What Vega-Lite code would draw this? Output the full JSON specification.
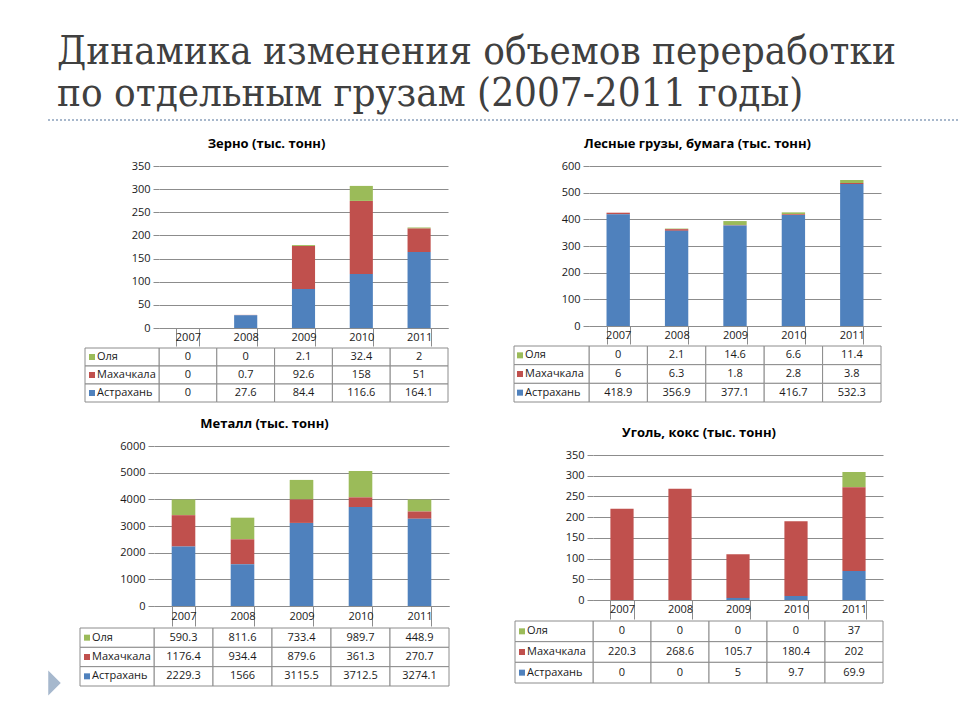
{
  "$schema": "https://vega.github.io/schema/vega-lite/v6.json",
  "padding": {"left": 47, "top": 32, "right": 0, "bottom": 0},
  "background": "white",
  "title": {
    "text": ["Динамика изменения объемов переработки", "по отдельным грузам (2007-2011 годы)"],
    "anchor": "start", "frame": "bounds", "font": "DejaVu Serif Condensed, DejaVu Serif",
    "fontSize": 40, "fontWeight": "normal", "color": "#404040", "lineHeight": 42, "dx": 10, "offset": 5
  },
  "datasets": {
    "d": [
      {"chart": "Зерно", "year": "2007", "series": "Оля", "value": 0},
      {"chart": "Зерно", "year": "2007", "series": "Махачкала", "value": 0},
      {"chart": "Зерно", "year": "2007", "series": "Астрахань", "value": 0},
      {"chart": "Зерно", "year": "2008", "series": "Оля", "value": 0},
      {"chart": "Зерно", "year": "2008", "series": "Махачкала", "value": 0.7},
      {"chart": "Зерно", "year": "2008", "series": "Астрахань", "value": 27.6},
      {"chart": "Зерно", "year": "2009", "series": "Оля", "value": 2.1},
      {"chart": "Зерно", "year": "2009", "series": "Махачкала", "value": 92.6},
      {"chart": "Зерно", "year": "2009", "series": "Астрахань", "value": 84.4},
      {"chart": "Зерно", "year": "2010", "series": "Оля", "value": 32.4},
      {"chart": "Зерно", "year": "2010", "series": "Махачкала", "value": 158},
      {"chart": "Зерно", "year": "2010", "series": "Астрахань", "value": 116.6},
      {"chart": "Зерно", "year": "2011", "series": "Оля", "value": 2},
      {"chart": "Зерно", "year": "2011", "series": "Махачкала", "value": 51},
      {"chart": "Зерно", "year": "2011", "series": "Астрахань", "value": 164.1},
      {"chart": "Лес", "year": "2007", "series": "Оля", "value": 0},
      {"chart": "Лес", "year": "2007", "series": "Махачкала", "value": 6},
      {"chart": "Лес", "year": "2007", "series": "Астрахань", "value": 418.9},
      {"chart": "Лес", "year": "2008", "series": "Оля", "value": 2.1},
      {"chart": "Лес", "year": "2008", "series": "Махачкала", "value": 6.3},
      {"chart": "Лес", "year": "2008", "series": "Астрахань", "value": 356.9},
      {"chart": "Лес", "year": "2009", "series": "Оля", "value": 14.6},
      {"chart": "Лес", "year": "2009", "series": "Махачкала", "value": 1.8},
      {"chart": "Лес", "year": "2009", "series": "Астрахань", "value": 377.1},
      {"chart": "Лес", "year": "2010", "series": "Оля", "value": 6.6},
      {"chart": "Лес", "year": "2010", "series": "Махачкала", "value": 2.8},
      {"chart": "Лес", "year": "2010", "series": "Астрахань", "value": 416.7},
      {"chart": "Лес", "year": "2011", "series": "Оля", "value": 11.4},
      {"chart": "Лес", "year": "2011", "series": "Махачкала", "value": 3.8},
      {"chart": "Лес", "year": "2011", "series": "Астрахань", "value": 532.3},
      {"chart": "Металл", "year": "2007", "series": "Оля", "value": 590.3},
      {"chart": "Металл", "year": "2007", "series": "Махачкала", "value": 1176.4},
      {"chart": "Металл", "year": "2007", "series": "Астрахань", "value": 2229.3},
      {"chart": "Металл", "year": "2008", "series": "Оля", "value": 811.6},
      {"chart": "Металл", "year": "2008", "series": "Махачкала", "value": 934.4},
      {"chart": "Металл", "year": "2008", "series": "Астрахань", "value": 1566},
      {"chart": "Металл", "year": "2009", "series": "Оля", "value": 733.4},
      {"chart": "Металл", "year": "2009", "series": "Махачкала", "value": 879.6},
      {"chart": "Металл", "year": "2009", "series": "Астрахань", "value": 3115.5},
      {"chart": "Металл", "year": "2010", "series": "Оля", "value": 989.7},
      {"chart": "Металл", "year": "2010", "series": "Махачкала", "value": 361.3},
      {"chart": "Металл", "year": "2010", "series": "Астрахань", "value": 3712.5},
      {"chart": "Металл", "year": "2011", "series": "Оля", "value": 448.9},
      {"chart": "Металл", "year": "2011", "series": "Махачкала", "value": 270.7},
      {"chart": "Металл", "year": "2011", "series": "Астрахань", "value": 3274.1},
      {"chart": "Уголь", "year": "2007", "series": "Оля", "value": 0},
      {"chart": "Уголь", "year": "2007", "series": "Махачкала", "value": 220.3},
      {"chart": "Уголь", "year": "2007", "series": "Астрахань", "value": 0},
      {"chart": "Уголь", "year": "2008", "series": "Оля", "value": 0},
      {"chart": "Уголь", "year": "2008", "series": "Махачкала", "value": 268.6},
      {"chart": "Уголь", "year": "2008", "series": "Астрахань", "value": 0},
      {"chart": "Уголь", "year": "2009", "series": "Оля", "value": 0},
      {"chart": "Уголь", "year": "2009", "series": "Махачкала", "value": 105.7},
      {"chart": "Уголь", "year": "2009", "series": "Астрахань", "value": 5},
      {"chart": "Уголь", "year": "2010", "series": "Оля", "value": 0},
      {"chart": "Уголь", "year": "2010", "series": "Махачкала", "value": 180.4},
      {"chart": "Уголь", "year": "2010", "series": "Астрахань", "value": 9.7},
      {"chart": "Уголь", "year": "2011", "series": "Оля", "value": 37},
      {"chart": "Уголь", "year": "2011", "series": "Махачкала", "value": 202},
      {"chart": "Уголь", "year": "2011", "series": "Астрахань", "value": 69.9}
    ]
  },
  "data": {"name": "d"},
  "spacing": 14,
  "vconcat": [
    {
      "data": {"values": [{"a": 0, "b": 1}]},
      "width": 913, "height": 4,
      "mark": {"type": "rule", "strokeDash": [2, 2], "strokeWidth": 2, "color": "#a8b8cc"},
      "encoding": {
        "x": {"field": "a", "type": "quantitative", "scale": {"domain": [0, 1]}, "axis": null},
        "x2": {"field": "b"},
        "y": {"datum": 1, "type": "quantitative", "scale": {"domain": [0, 1], "nice": false}, "axis": null}
      }
    },
    {
      "spacing": 0,
      "hconcat": [
        {"data": {"values": []}, "width": 36, "height": 2, "mark": "point", "view": {"fill": "white"}},
        {
          "spacing": 64,
          "hconcat": [
            {
              "spacing": 0,
              "vconcat": [
                {
                  "width": 289, "height": 162,
                  "title": {"text": "Зерно (тыс. тонн)", "frame": "bounds"},
                  "transform": [{"filter": {"field": "chart", "equal": "Зерно"}}],
                  "mark": {"type": "bar"},
                  "encoding": {
                    "x": {"field": "year", "type": "ordinal", "scale": {"paddingInner": 0.6, "paddingOuter": 0.3},
                          "axis": {"title": null, "labelAngle": 0, "tickBand": "extent", "tickSize": 18, "labelPadding": -9, "labelBaseline": "middle", "domainColor": "#8c8c8c", "tickColor": "#8c8c8c", "grid": false}},
                    "y": {"field": "value", "type": "quantitative", "scale": {"domain": [0, 350], "nice": false},
                          "axis": {"title": null, "values": [0, 50, 100, 150, 200, 250, 300, 350], "format": "d", "tickSize": 6, "tickColor": "#8c8c8c", "gridColor": "#8c8c8c", "domain": false, "minExtent": 74, "maxExtent": 74, "labelPadding": 3}},
                    "color": {"field": "series", "type": "nominal", "scale": {"domain": ["Астрахань", "Махачкала", "Оля"], "range": ["#4F81BD", "#C0504D", "#9BBB59"]}, "legend": null},
                    "order": {"field": "series", "type": "ordinal", "sort": "ascending"}
                  }
                },
                {
                  "width": 289, "height": 54,
                  "transform": [{"filter": {"field": "chart", "equal": "Зерно"}}],
                  "resolve": {"scale": {"x": "independent"}},
                  "encoding": {"y": {"field": "series", "type": "nominal", "sort": ["Оля", "Махачкала", "Астрахань"], "scale": {"paddingInner": 0, "paddingOuter": 0}, "axis": null}},
                  "layer": [
                    {"mark": {"type": "rect", "fill": "white", "stroke": "#8c8c8c"}, "encoding": {"x": {"field": "year", "type": "ordinal", "scale": {"paddingInner": 0, "paddingOuter": 0}, "axis": null}}},
                    {"mark": {"type": "text", "fontSize": 11, "color": "#1a1a1a"}, "encoding": {"x": {"field": "year", "type": "ordinal", "scale": {"paddingInner": 0, "paddingOuter": 0}, "axis": null}, "text": {"field": "value", "type": "nominal"}}},
                    {
                      "transform": [{"filter": {"field": "year", "equal": "2007"}}],
                      "layer": [
                        {"mark": {"type": "rect", "fill": "white", "stroke": "#8c8c8c"}, "encoding": {"x": {"datum": -74, "type": "quantitative", "scale": {"domain": [0, 289], "nice": false, "zero": false}, "axis": null}, "x2": {"datum": 0}}},
                        {"mark": {"type": "point", "shape": "square", "filled": true, "size": 36, "opacity": 1}, "encoding": {"x": {"datum": -67, "type": "quantitative", "scale": {"domain": [0, 289], "nice": false, "zero": false}, "axis": null}, "color": {"field": "series", "type": "nominal", "scale": {"domain": ["Астрахань", "Махачкала", "Оля"], "range": ["#4F81BD", "#C0504D", "#9BBB59"]}, "legend": null}}},
                        {"mark": {"type": "text", "align": "left", "fontSize": 11, "color": "#1a1a1a"}, "encoding": {"x": {"datum": -62, "type": "quantitative", "scale": {"domain": [0, 289], "nice": false, "zero": false}, "axis": null}, "text": {"field": "series"}}}
                      ]
                    }
                  ]
                }
              ]
            },
            {
              "spacing": 0,
              "vconcat": [
                {
                  "width": 292, "height": 160,
                  "title": {"text": "Лесные грузы, бумага (тыс. тонн)", "frame": "bounds"},
                  "transform": [{"filter": {"field": "chart", "equal": "Лес"}}],
                  "mark": {"type": "bar"},
                  "encoding": {
                    "x": {"field": "year", "type": "ordinal", "scale": {"paddingInner": 0.6, "paddingOuter": 0.3},
                          "axis": {"title": null, "labelAngle": 0, "tickBand": "extent", "tickSize": 18, "labelPadding": -9, "labelBaseline": "middle", "domainColor": "#8c8c8c", "tickColor": "#8c8c8c", "grid": false}},
                    "y": {"field": "value", "type": "quantitative", "scale": {"domain": [0, 600], "nice": false},
                          "axis": {"title": null, "values": [0, 100, 200, 300, 400, 500, 600], "format": "d", "tickSize": 6, "tickColor": "#8c8c8c", "gridColor": "#8c8c8c", "domain": false, "minExtent": 75, "maxExtent": 75, "labelPadding": 3}},
                    "color": {"field": "series", "type": "nominal", "scale": {"domain": ["Астрахань", "Махачкала", "Оля"], "range": ["#4F81BD", "#C0504D", "#9BBB59"]}, "legend": null},
                    "order": {"field": "series", "type": "ordinal", "sort": "ascending"}
                  }
                },
                {
                  "width": 292, "height": 56,
                  "transform": [{"filter": {"field": "chart", "equal": "Лес"}}],
                  "resolve": {"scale": {"x": "independent"}},
                  "encoding": {"y": {"field": "series", "type": "nominal", "sort": ["Оля", "Махачкала", "Астрахань"], "scale": {"paddingInner": 0, "paddingOuter": 0}, "axis": null}},
                  "layer": [
                    {"mark": {"type": "rect", "fill": "white", "stroke": "#8c8c8c"}, "encoding": {"x": {"field": "year", "type": "ordinal", "scale": {"paddingInner": 0, "paddingOuter": 0}, "axis": null}}},
                    {"mark": {"type": "text", "fontSize": 11, "color": "#1a1a1a"}, "encoding": {"x": {"field": "year", "type": "ordinal", "scale": {"paddingInner": 0, "paddingOuter": 0}, "axis": null}, "text": {"field": "value", "type": "nominal"}}},
                    {
                      "transform": [{"filter": {"field": "year", "equal": "2007"}}],
                      "layer": [
                        {"mark": {"type": "rect", "fill": "white", "stroke": "#8c8c8c"}, "encoding": {"x": {"datum": -75, "type": "quantitative", "scale": {"domain": [0, 292], "nice": false, "zero": false}, "axis": null}, "x2": {"datum": 0}}},
                        {"mark": {"type": "point", "shape": "square", "filled": true, "size": 36, "opacity": 1}, "encoding": {"x": {"datum": -69, "type": "quantitative", "scale": {"domain": [0, 292], "nice": false, "zero": false}, "axis": null}, "color": {"field": "series", "type": "nominal", "scale": {"domain": ["Астрахань", "Махачкала", "Оля"], "range": ["#4F81BD", "#C0504D", "#9BBB59"]}, "legend": null}}},
                        {"mark": {"type": "text", "align": "left", "fontSize": 11, "color": "#1a1a1a"}, "encoding": {"x": {"datum": -64, "type": "quantitative", "scale": {"domain": [0, 292], "nice": false, "zero": false}, "axis": null}, "text": {"field": "series"}}}
                      ]
                    }
                  ]
                }
              ]
            }
          ]
        }
      ]
    },
    {
      "spacing": 0,
      "hconcat": [
        {
          "data": {"values": [{"p": 1}]},
          "width": 31, "height": 282,
          "view": {"fill": "white"},
          "mark": {"type": "point", "shape": "M -0.5 -1 L 0.5 0 L -0.5 1 Z", "filled": true, "size": 625, "color": "#a6b8cd", "opacity": 1},
          "encoding": {
            "x": {"datum": 6.5, "type": "quantitative", "scale": {"domain": [0, 31], "nice": false}, "axis": null},
            "y": {"datum": 266, "type": "quantitative", "scale": {"domain": [0, 282], "reverse": true, "nice": false}, "axis": null}
          }
        },
        {
          "spacing": 64,
          "hconcat": [
            {
              "spacing": 0,
              "vconcat": [
                {"data": {"values": []}, "width": 2, "height": 1, "mark": "point", "view": {"fill": "white"}},
                {
                  "width": 295, "height": 160,
                  "title": {"text": "Металл (тыс. тонн)", "frame": "bounds"},
                  "transform": [{"filter": {"field": "chart", "equal": "Металл"}}],
                  "mark": {"type": "bar"},
                  "encoding": {
                    "x": {"field": "year", "type": "ordinal", "scale": {"paddingInner": 0.6, "paddingOuter": 0.3},
                          "axis": {"title": null, "labelAngle": 0, "tickBand": "extent", "tickSize": 20, "labelPadding": -10, "labelBaseline": "middle", "domainColor": "#8c8c8c", "tickColor": "#8c8c8c", "grid": false}},
                    "y": {"field": "value", "type": "quantitative", "scale": {"domain": [0, 6000], "nice": false},
                          "axis": {"title": null, "values": [0, 1000, 2000, 3000, 4000, 5000, 6000], "format": "d", "tickSize": 6, "tickColor": "#8c8c8c", "gridColor": "#8c8c8c", "domain": false, "minExtent": 74, "maxExtent": 74, "labelPadding": 3}},
                    "color": {"field": "series", "type": "nominal", "scale": {"domain": ["Астрахань", "Махачкала", "Оля"], "range": ["#4F81BD", "#C0504D", "#9BBB59"]}, "legend": null},
                    "order": {"field": "series", "type": "ordinal", "sort": "ascending"}
                  }
                },
                {
                  "width": 295, "height": 58,
                  "transform": [{"filter": {"field": "chart", "equal": "Металл"}}],
                  "resolve": {"scale": {"x": "independent"}},
                  "encoding": {"y": {"field": "series", "type": "nominal", "sort": ["Оля", "Махачкала", "Астрахань"], "scale": {"paddingInner": 0, "paddingOuter": 0}, "axis": null}},
                  "layer": [
                    {"mark": {"type": "rect", "fill": "white", "stroke": "#8c8c8c"}, "encoding": {"x": {"field": "year", "type": "ordinal", "scale": {"paddingInner": 0, "paddingOuter": 0}, "axis": null}}},
                    {"mark": {"type": "text", "fontSize": 11, "color": "#1a1a1a"}, "encoding": {"x": {"field": "year", "type": "ordinal", "scale": {"paddingInner": 0, "paddingOuter": 0}, "axis": null}, "text": {"field": "value", "type": "nominal"}}},
                    {
                      "transform": [{"filter": {"field": "year", "equal": "2007"}}],
                      "layer": [
                        {"mark": {"type": "rect", "fill": "white", "stroke": "#8c8c8c"}, "encoding": {"x": {"datum": -74, "type": "quantitative", "scale": {"domain": [0, 295], "nice": false, "zero": false}, "axis": null}, "x2": {"datum": 0}}},
                        {"mark": {"type": "point", "shape": "square", "filled": true, "size": 36, "opacity": 1}, "encoding": {"x": {"datum": -67, "type": "quantitative", "scale": {"domain": [0, 295], "nice": false, "zero": false}, "axis": null}, "color": {"field": "series", "type": "nominal", "scale": {"domain": ["Астрахань", "Махачкала", "Оля"], "range": ["#4F81BD", "#C0504D", "#9BBB59"]}, "legend": null}}},
                        {"mark": {"type": "text", "align": "left", "fontSize": 11, "color": "#1a1a1a"}, "encoding": {"x": {"datum": -62, "type": "quantitative", "scale": {"domain": [0, 295], "nice": false, "zero": false}, "axis": null}, "text": {"field": "series"}}}
                      ]
                    }
                  ]
                }
              ]
            },
            {
              "spacing": 0,
              "vconcat": [
                {"data": {"values": []}, "width": 2, "height": 10, "mark": "point", "view": {"fill": "white"}},
                {
                  "width": 290, "height": 145,
                  "title": {"text": "Уголь, кокс (тыс. тонн)", "frame": "bounds"},
                  "transform": [{"filter": {"field": "chart", "equal": "Уголь"}}],
                  "mark": {"type": "bar"},
                  "encoding": {
                    "x": {"field": "year", "type": "ordinal", "scale": {"paddingInner": 0.6, "paddingOuter": 0.3},
                          "axis": {"title": null, "labelAngle": 0, "tickBand": "extent", "tickSize": 19, "labelPadding": -9.5, "labelBaseline": "middle", "domainColor": "#8c8c8c", "tickColor": "#8c8c8c", "grid": false}},
                    "y": {"field": "value", "type": "quantitative", "scale": {"domain": [0, 350], "nice": false},
                          "axis": {"title": null, "values": [0, 50, 100, 150, 200, 250, 300, 350], "format": "d", "tickSize": 6, "tickColor": "#8c8c8c", "gridColor": "#8c8c8c", "domain": false, "minExtent": 78, "maxExtent": 78, "labelPadding": 3}},
                    "color": {"field": "series", "type": "nominal", "scale": {"domain": ["Астрахань", "Махачкала", "Оля"], "range": ["#4F81BD", "#C0504D", "#9BBB59"]}, "legend": null},
                    "order": {"field": "series", "type": "ordinal", "sort": "ascending"}
                  }
                },
                {
                  "width": 290, "height": 62,
                  "transform": [{"filter": {"field": "chart", "equal": "Уголь"}}],
                  "resolve": {"scale": {"x": "independent"}},
                  "encoding": {"y": {"field": "series", "type": "nominal", "sort": ["Оля", "Махачкала", "Астрахань"], "scale": {"paddingInner": 0, "paddingOuter": 0}, "axis": null}},
                  "layer": [
                    {"mark": {"type": "rect", "fill": "white", "stroke": "#8c8c8c"}, "encoding": {"x": {"field": "year", "type": "ordinal", "scale": {"paddingInner": 0, "paddingOuter": 0}, "axis": null}}},
                    {"mark": {"type": "text", "fontSize": 11, "color": "#1a1a1a"}, "encoding": {"x": {"field": "year", "type": "ordinal", "scale": {"paddingInner": 0, "paddingOuter": 0}, "axis": null}, "text": {"field": "value", "type": "nominal"}}},
                    {
                      "transform": [{"filter": {"field": "year", "equal": "2007"}}],
                      "layer": [
                        {"mark": {"type": "rect", "fill": "white", "stroke": "#8c8c8c"}, "encoding": {"x": {"datum": -78, "type": "quantitative", "scale": {"domain": [0, 290], "nice": false, "zero": false}, "axis": null}, "x2": {"datum": 0}}},
                        {"mark": {"type": "point", "shape": "square", "filled": true, "size": 36, "opacity": 1}, "encoding": {"x": {"datum": -71, "type": "quantitative", "scale": {"domain": [0, 290], "nice": false, "zero": false}, "axis": null}, "color": {"field": "series", "type": "nominal", "scale": {"domain": ["Астрахань", "Махачкала", "Оля"], "range": ["#4F81BD", "#C0504D", "#9BBB59"]}, "legend": null}}},
                        {"mark": {"type": "text", "align": "left", "fontSize": 11, "color": "#1a1a1a"}, "encoding": {"x": {"datum": -66, "type": "quantitative", "scale": {"domain": [0, 290], "nice": false, "zero": false}, "axis": null}, "text": {"field": "series"}}}
                      ]
                    }
                  ]
                }
              ]
            }
          ]
        }
      ]
    }
  ],
  "config": {
    "view": {"stroke": null},
    "font": "Open Sans",
    "axis": {"labelFont": "Open Sans", "labelFontSize": 11, "labelColor": "#1a1a1a"},
    "title": {"font": "Open Sans", "fontSize": 13, "fontWeight": "bold", "color": "#000000", "offset": 9},
    "text": {"font": "Open Sans"}
  }
}
